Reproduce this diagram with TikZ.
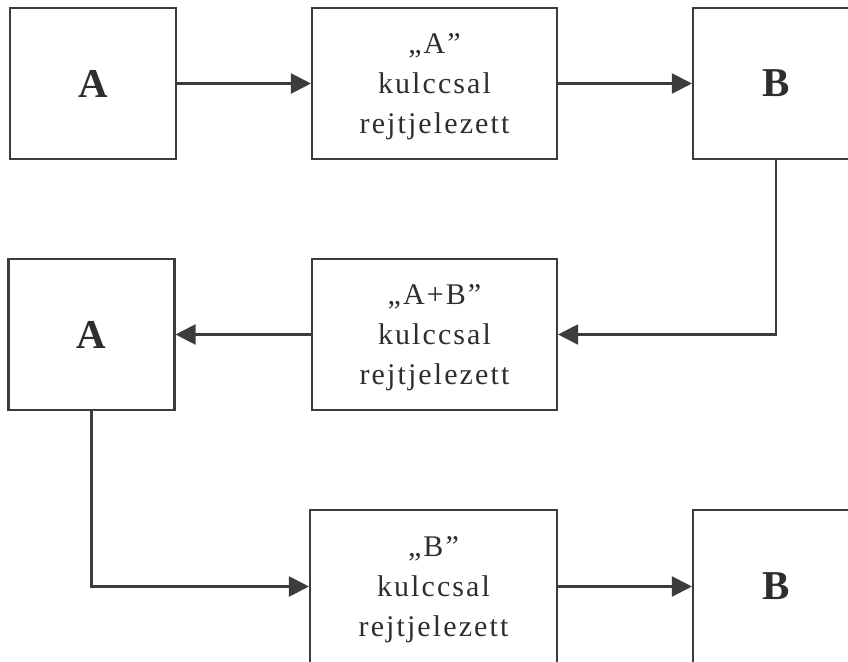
\documentclass[tikz,border=0pt]{standalone}
\usepackage{fontspec}
\setmainfont{Liberation Serif}
\newfontfamily\midfont[LetterSpace=7]{Liberation Serif}
\usetikzlibrary{arrows.meta}
\definecolor{ink}{HTML}{3C3C3C}
\definecolor{txt}{HTML}{2E2E2E}
\newcommand\firststrut{\rule{0pt}{27pt}}
\tikzset{
  box/.style={draw=ink, line width=2.1pt, rectangle, inner sep=0pt, text=txt},
  bigbox/.style={box, minimum width=166pt, minimum height=151pt,
    font=\fontsize{41}{41}\selectfont\bfseries},
  midbox/.style={box, minimum width=245pt, minimum height=151pt, align=center,
    font=\midfont\fontsize{30}{40}\selectfont},
  arr/.style={draw=ink, line width=2.1pt, -{Triangle[length=20pt,width=20pt]}}
}
\begin{document}
\begin{tikzpicture}[x=1pt,y=-1pt]
\useasboundingbox (0,0) rectangle (848,661);
\clip (0,0) rectangle (848,661);
\fill[white] (0,0) rectangle (848,661);
% row 1
\node[bigbox] (a1) at (93,83.5) {A};
\node[midbox] (m1) at (434.5,83.5) {\firststrut„A”\\kulccsal\\rejtjelezett};
\node[bigbox] (b1) at (776,83.5) {B};
% row 2
\node[bigbox] (a2) at (91.5,334.5) {A};
\node[midbox] (m2) at (434.5,334.5) {\firststrut„A+B”\\kulccsal\\rejtjelezett};
% row 3
\node[midbox, minimum width=247pt, minimum height=153pt] (m3) at (433.5,586.5) {\firststrut„B”\\kulccsal\\rejtjelezett};
\node[bigbox, minimum height=153pt] (b3) at (776,586.5) {B};
% connectors
\draw[arr] (a1) -- (m1);
\draw[arr] (m1) -- (b1);
\draw[arr] (b1.south) |- (m2.east);
\draw[arr] (m2) -- (a2);
\draw[arr] (a2.south) |- (m3.west);
\draw[arr] (m3) -- (b3);
\end{tikzpicture}
\end{document}
